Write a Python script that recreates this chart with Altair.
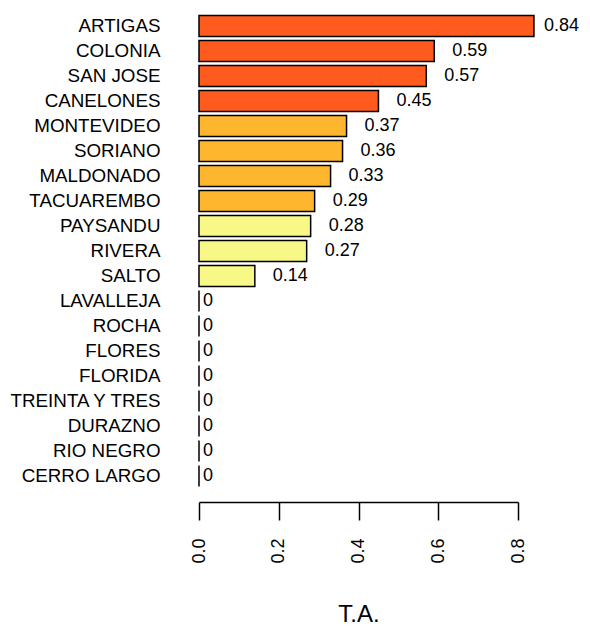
import altair as alt
import pandas as pd

categories = ["ARTIGAS", "COLONIA", "SAN JOSE", "CANELONES", "MONTEVIDEO", "SORIANO",
              "MALDONADO", "TACUAREMBO", "PAYSANDU", "RIVERA", "SALTO", "LAVALLEJA",
              "ROCHA", "FLORES", "FLORIDA", "TREINTA Y TRES", "DURAZNO", "RIO NEGRO",
              "CERRO LARGO"]
values = [0.84, 0.59, 0.57, 0.45, 0.37, 0.36, 0.33, 0.29, 0.28, 0.27, 0.14,
          0, 0, 0, 0, 0, 0, 0, 0]
value_labels = ["0.84", "0.59", "0.57", "0.45", "0.37", "0.36", "0.33", "0.29", "0.28",
                "0.27", "0.14", "0", "0", "0", "0", "0", "0", "0", "0"]
groups = ["high"] * 4 + ["mid"] * 4 + ["low"] * 3 + ["none"] * 8
group_names = ["high", "mid", "low", "none"]
group_colors = ["#FF5B1F", "#FFB62F", "#F8F887", "#FFFFFF"]
tick_values = [0, 0.2, 0.4, 0.6, 0.8]

df = pd.DataFrame({"dept": categories, "value": values, "label": value_labels, "grp": groups})

FONT = "Liberation Sans"

y_enc = alt.Y("dept:N", sort=categories,
              scale=alt.Scale(paddingInner=0.1667, paddingOuter=0.0833),
              axis=alt.Axis(title=None, ticks=False, domain=False, labelPadding=39,
                            labelFontSize=18.8, labelColor="black", labelFont=FONT,
                            labelAlign="right"))
x_scale = alt.Scale(domain=[0, 0.8], nice=False, zero=True, clamp=False)

bars = alt.Chart(df).mark_bar(stroke="black", strokeWidth=1.5).encode(
    x=alt.X("value:Q", scale=x_scale,
            axis=alt.Axis(values=tick_values, format=".1f", grid=False,
                          labelAngle=270, labelAlign="right", labelBaseline="middle",
                          labelPadding=18, labelFontSize=18, labelFont=FONT,
                          labelColor="black", labelFlush=False, labelOverlap=False,
                          tickSize=18, tickColor="black", tickWidth=1.5,
                          domainColor="black", domainWidth=1.5, offset=13.5,
                          title="T.A.", titleFontSize=24, titleFont=FONT,
                          titleFontWeight="normal", titleColor="black",
                          titlePadding=39)),
    y=y_enc,
    color=alt.Color("grp:N", scale=alt.Scale(domain=group_names, range=group_colors),
                    legend=None),
)

# labels beside the bars; the widest bar's label is nudged in so it stays on the page
text_pos = alt.Chart(df).transform_filter("datum.value > 0 && datum.value < 0.8").mark_text(
    align="left", baseline="middle", dx=18, fontSize=18, font=FONT, color="black"
).encode(x=alt.X("value:Q", scale=x_scale), y=alt.Y("dept:N", sort=categories), text="label:N")

text_top = alt.Chart(df).transform_filter("datum.value >= 0.8").mark_text(
    align="left", baseline="middle", dx=10, fontSize=18, font=FONT, color="black"
).encode(x=alt.X("value:Q", scale=x_scale), y=alt.Y("dept:N", sort=categories), text="label:N")

text_zero = alt.Chart(df).transform_filter("datum.value == 0").mark_text(
    align="left", baseline="middle", dx=4, fontSize=18, font=FONT, color="black"
).encode(x=alt.X("value:Q", scale=x_scale), y=alt.Y("dept:N", sort=categories), text="label:N")

chart = (bars + text_pos + text_top + text_zero).properties(
    width=319, height=475,
    autosize=alt.AutoSizeParams(type="none"),
    padding={"left": 191, "top": 5.5, "right": 62, "bottom": 138.5},
).configure(font=FONT).configure_view(stroke=None)

chart.save("out.html", embed_options={"renderer": "svg", "actions": False})
